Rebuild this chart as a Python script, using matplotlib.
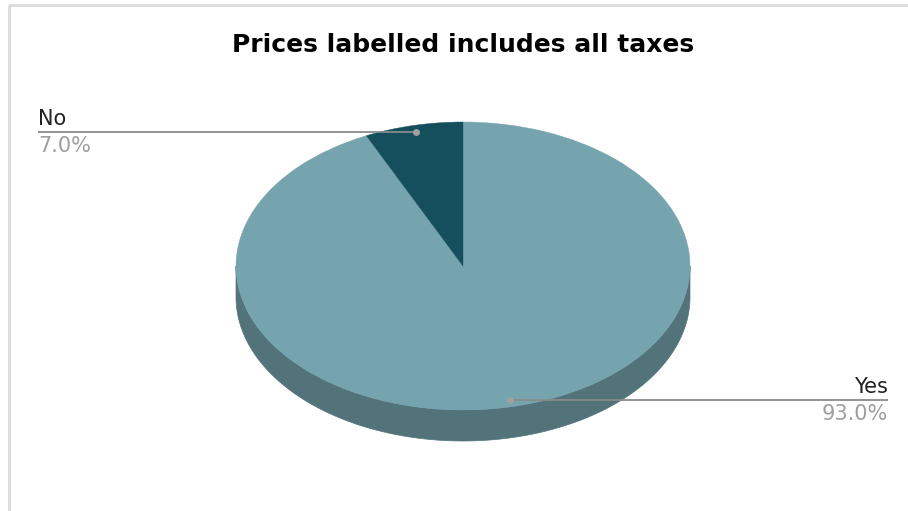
import numpy as np
import matplotlib
matplotlib.use("Agg")
import matplotlib.pyplot as plt
from matplotlib.patches import Wedge, Polygon, Rectangle
from matplotlib.transforms import Affine2D

# Survey answers
labels = ["Yes", "No"]
shares = [93.0, 7.0]
top_colors = ["#75a4af", "#154e5c"]
side_colors = ["#52737a", "#0f3a44"]
title = "Prices labelled includes all taxes"

W, H = 908, 511
fig = plt.figure(figsize=(W / 100, H / 100), dpi=100)
ax = fig.add_axes([0, 0, 1, 1])
ax.set_xlim(0, W)
ax.set_ylim(H, 0)
ax.axis("off")

font = "DejaVu Sans"

# card border (top and left edges)
ax.add_patch(Rectangle((9, 5), W, H, fill=False, edgecolor="#dcdcdc", lw=2))

# ellipse geometry of the tilted pie
cx, cy = 463, 266
rx, ry = 227, 144
depth = 31
ell = Affine2D().scale(rx, -ry).translate(cx, cy) + ax.transData

# slice angles: start at 12 o'clock, run clockwise
total = sum(shares)
angles = []
start = 90.0
for v in shares:
    sweep = 360.0 * v / total
    angles.append((start - sweep, start))
    start -= sweep

# side walls (visible lower half: 180..360 degrees)
for (a1, a2), col in zip(angles, side_colors):
    lo, hi = a1 % 360, (a1 % 360) + (a2 - a1)
    for off in (0, 360, -360):
        s, e = max(lo + off, 180), min(hi + off, 360)
        if e > s:
            t = np.radians(np.linspace(s, e, 200))
            xs = cx + rx * np.cos(t)
            ys = cy - ry * np.sin(t)
            pts = np.vstack([np.column_stack([xs, ys]),
                             np.column_stack([xs[::-1], ys[::-1] + depth])])
            ax.add_patch(Polygon(pts, closed=True, facecolor=col,
                                 edgecolor=col, lw=0.5, zorder=1))

# top faces
for (a1, a2), col in zip(angles, top_colors):
    ax.add_patch(Wedge((0, 0), 1, a1, a2, facecolor=col, edgecolor=col,
                       lw=0.3, transform=ell, zorder=2))

# leader lines and labels
for (a1, a2), lab, v in zip(angles, labels, shares):
    mid = np.radians((a1 + a2) / 2)
    px = cx + 0.95 * rx * np.cos(mid)
    py = cy - 0.95 * ry * np.sin(mid)
    if px < cx:
        tx, ha = 38, "left"
    else:
        tx, ha = 888, "right"
    ax.plot([px, tx], [py, py], color="#8a8a8a", lw=1.3, zorder=3,
            solid_capstyle="butt")
    ax.plot([px], [py], "o", color="#a0a0a0", ms=5, zorder=4, mec="none")
    ax.text(tx, py - 7, lab, ha=ha, va="baseline", fontsize=15,
            family=font, color="#222222")
    ax.text(tx, py + 20, f"{v:.1f}%", ha=ha, va="baseline", fontsize=15,
            family=font, color="#9e9e9e")

ax.text(463, 52, title, ha="center", va="baseline", fontsize=18,
        fontweight="bold", family=font, color="#000000")

fig.savefig("out.png", dpi=100)
